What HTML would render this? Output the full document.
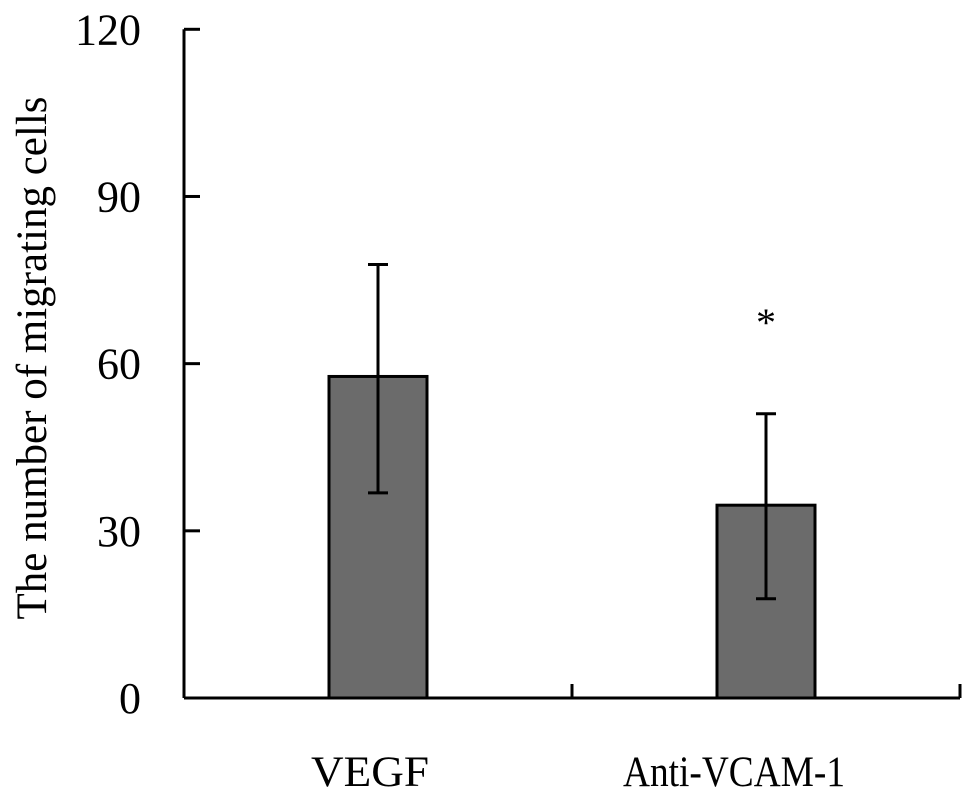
<!DOCTYPE html>
<html><head><meta charset="utf-8"><style>
html,body{margin:0;padding:0;background:#fff;}
svg{display:block;font-family:"Liberation Serif",serif;}
</style></head><body>
<svg id="chart" width="969" height="795">
<text transform="translate(46,358) rotate(-90)" text-anchor="middle" font-size="43">The number of migrating cells</text>
<g id="g"></g>
</svg>
<script>
const categories=["VEGF","Anti-VCAM-1"];
const means=[57.7,34.6];
const errUpper=[77.8,51];
const errLower=[36.8,17.8];
const yTicks=[0,30,60,90,120];
const sigMarks=["","*"];
const NS="http://www.w3.org/2000/svg";
const g=document.getElementById('g');
const x0=184,x1=960,y0=698,y1=29.3,yMax=120;
const ys=v=>y0-(v/yMax)*(y0-y1);
const bw=(x1-x0)/categories.length;
const xc=i=>x0+bw*(i+0.5);
const labelShift=[-8,-32];
const labelLen=[118,222];
function mk(t,a){const e=document.createElementNS(NS,t);for(const k in a)e.setAttribute(k,a[k]);g.appendChild(e);return e;}
let e;
yTicks.forEach(v=>{
 e=mk('line',{x1:x0,x2:x0+16,y1:ys(v),y2:ys(v),stroke:'#000','stroke-width':3});
 
 
 e=mk('text',{x:x0-43,y:ys(v)+15,'text-anchor':'end','font-size':44});
 e.textContent=v;
 
 
});
categories.forEach((c,i)=>{
 const w=98,cx=xc(i);
 e=mk('rect',{x:cx-w/2,y:ys(means[i]),width:w,height:y0-ys(means[i]),fill:'#6b6b6b',stroke:'#000','stroke-width':3});
 
 
 e=mk('line',{x1:cx,x2:cx,y1:ys(errUpper[i]),y2:ys(errLower[i]),stroke:'#000','stroke-width':3});
 
 
 [errUpper[i],errLower[i]].forEach(v=>{
  e=mk('line',{x1:cx-10,x2:cx+10,y1:ys(v),y2:ys(v),stroke:'#000','stroke-width':3});
  
  
 });
 e=mk('text',{x:cx+labelShift[i],y:786,'text-anchor':'middle','font-size':43,textLength:labelLen[i],lengthAdjust:'spacingAndGlyphs'});
 e.textContent=c;
 
 
 if(sigMarks[i]){
  e=mk('text',{x:cx,y:ys(errUpper[i])-78,'text-anchor':'middle','font-size':40});
  e.textContent=sigMarks[i];
  
  
 }
 e=mk('line',{x1:x0+bw*(i+1),x2:x0+bw*(i+1),y1:y0,y2:y0-14,stroke:'#000','stroke-width':3});
 
 
});
e=mk('line',{x1:x0,x2:x0,y1:y1,y2:y0,stroke:'#000','stroke-width':3});


e=mk('line',{x1:x0,x2:x1,y1:y0,y2:y0,stroke:'#000','stroke-width':3});


</script>
</body></html>
